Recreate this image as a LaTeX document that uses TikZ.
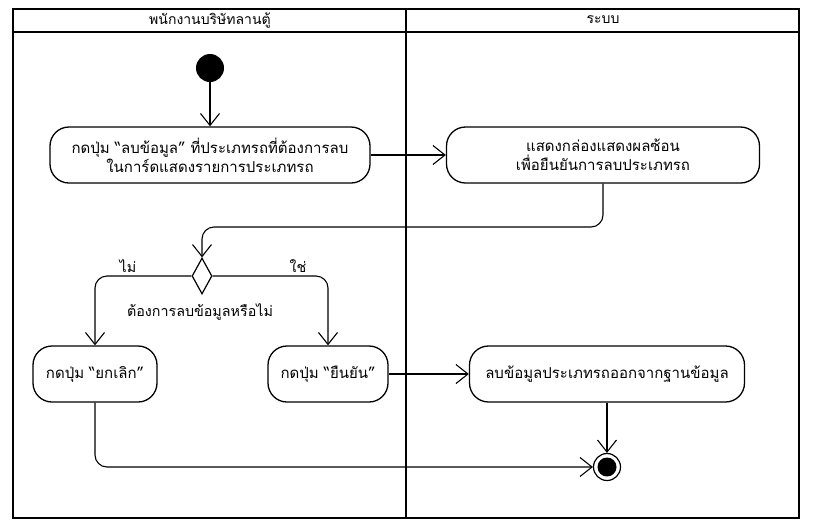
\documentclass[tikz,border=0pt]{standalone}
\usepackage{fontspec}
\setmainfont[Script=Thai]{Loma}
\usetikzlibrary{arrows.meta,shapes.geometric}
\tikzset{
  lane/.style={line width=2.6pt,draw=black},
  act/.style={draw,rounded corners=19pt,line width=1.3pt,align=center,inner sep=3pt,minimum height=56pt,font=\fontsize{15}{19}\selectfont},
  lbl/.style={font=\fontsize{14.3}{17}\selectfont,inner sep=1pt},
  initial/.style={circle,fill=black,minimum size=28pt,inner sep=0pt},
  final/.style={circle,draw,line width=1.2pt,minimum size=27pt,inner sep=0pt,
    path picture={\fill (path picture bounding box.center) circle (9.5pt);}},
  decision/.style={diamond,draw,line width=1.2pt,minimum width=20pt,minimum height=36pt,inner sep=0pt,aspect=0.55},
  flow/.style={-{Straight Barb[length=12pt,width=19pt]},line width=1.1pt,rounded corners=12pt}
}
\begin{document}
\begin{tikzpicture}[x=1pt,y=-1pt]
\useasboundingbox (0,0) rectangle (819,531);
% swimlanes
\draw[lane] (13,9) rectangle (799,518);
\draw[lane] (13,32) -- (799,32);
\draw[lane] (406,9) -- (406,518);
\node[lbl,font=\fontsize{14}{16}\selectfont] (staff) at (210,20) {พนักงานบริษัทลานตู้};
\node[lbl,font=\fontsize{14}{16}\selectfont] (sys) at (603,20) {ระบบ};
% activities
\node[initial] (start) at (210,68) {};
\node[act,minimum width=320pt] (press) at (210,155) {กดปุ่ม “ลบข้อมูล” ที่ประเภทรถที่ต้องการลบ\\ในการ์ดแสดงรายการประเภทรถ};
\node[act,minimum width=313pt] (confirmbox) at (603,155) {แสดงกล่องแสดงผลซ้อน\\เพื่อยืนยันการลบประเภทรถ};
\node[decision] (dec) at (202,276) {};
\coordinate (turn) at (0,227);
\node[lbl] (no) at (128,266) {ไม่};
\node[lbl] (yes) at (298,266) {ใช่};
\node[lbl] (guard) at (200,312) {ต้องการลบข้อมูลหรือไม่};
\node[act,minimum width=124pt] (cancel) at (95,374) {กดปุ่ม “ยกเลิก”};
\node[act,minimum width=120pt] (ok) at (328,374) {กดปุ่ม “ยืนยัน”};
\node[act,minimum width=275pt] (remove) at (607,374) {ลบข้อมูลประเภทรถออกจากฐานข้อมูล};
\node[final] (stop) at (607,467) {};
% flows
\draw[flow] (start) -- (press);
\draw[flow] (press) -- (confirmbox);
\draw[flow] (confirmbox.south) -- (confirmbox.south |- turn) -| (dec.north);
\draw[flow] (dec.west) -| (cancel.north);
\draw[flow] (dec.east) -| (ok.north);
\draw[flow] (ok) -- (remove);
\draw[flow] (remove) -- (stop);
\draw[flow] (cancel.south) |- (stop.west);
\end{tikzpicture}
\end{document}
